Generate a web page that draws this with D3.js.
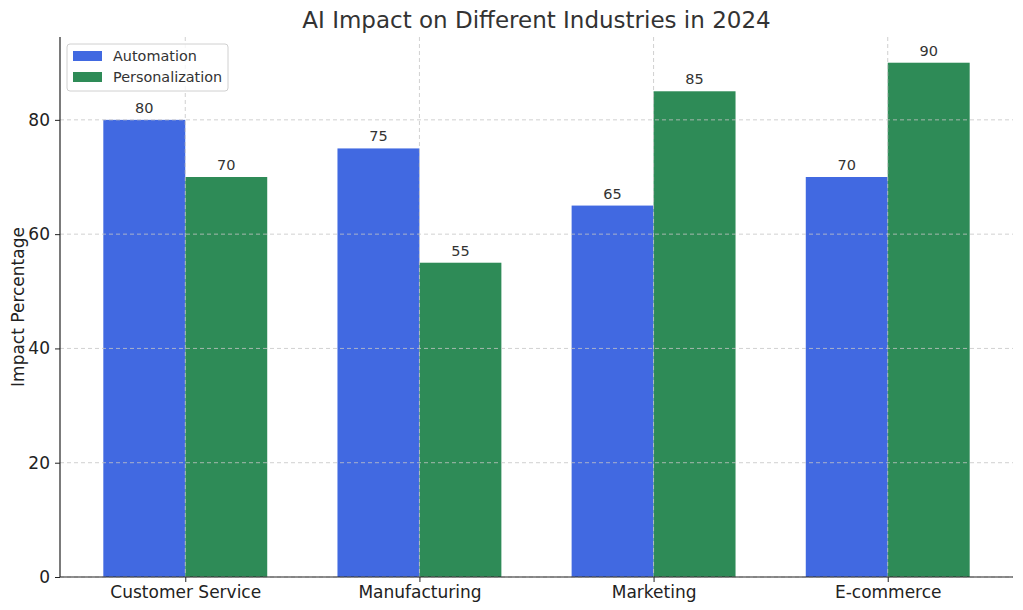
<!DOCTYPE html>
<html>
<head>
<meta charset="utf-8">
<script src="https://cdn.jsdelivr.net/npm/d3@7"></script>
<style>
  body { margin: 0; background: #fff; }
  svg text { font-family: "DejaVu Sans", sans-serif; }
</style>
</head>
<body>
<svg id="chart" width="1023" height="610"></svg>
<script>
var industries    = ['Customer Service', 'Manufacturing', 'Marketing', 'E-commerce'];
var automation    = [80, 75, 65, 70];
var personalize   = [70, 55, 85, 90];
var seriesNames   = ['Automation', 'Personalization'];
var seriesColors  = ['#4169e1', '#2e8b57'];
var yTicks        = [0, 20, 40, 60, 80];

var svg = d3.select('#chart');
var margin = {top: 37, right: 10, bottom: 33, left: 60},
    width  = svg.attr('width')  - margin.left - margin.right,
    height = svg.attr('height') - margin.top  - margin.bottom;

var g = svg.append('g')
           .attr('transform', 'translate(' + margin.left + ',' + margin.top + ')');

/* matplotlib-like: bars at i -/+ 0.35/2, 5% margins */
var barW = 0.35;
var lo = -barW, hi = industries.length - 1 + barW, pad = (hi - lo) * 0.05;
var x = d3.scaleLinear().domain([lo - pad, hi + pad]).range([0, width]);
var y = d3.scaleLinear().domain([0, d3.max(personalize.concat(automation)) * 1.05]).range([height, 0]);

var series = [automation, personalize];
series.forEach(function (vals, s) {
    g.selectAll('.bar' + s)
     .data(vals)
     .enter().append('rect')
       .attr('x', function (d, i) { return x(s == 0 ? i - barW : i); })
       .attr('y', function (d) { return y(d); })
       .attr('width', x(barW) - x(0))
       .attr('height', function (d) { return height - y(d); })
       .attr('fill', seriesColors[s]);

    g.selectAll('.lbl' + s)
     .data(vals)
     .enter().append('text')
       .attr('x', function (d, i) { return x(s == 0 ? i - barW / 2 : i + barW / 2); })
       .attr('y', function (d) { return y(d) - 7; })
       .attr('text-anchor', 'middle')
       .attr('font-size', '14.5px')
       .attr('fill', '#333')
       .text(function (d) { return d; });
});

/* grid on top of bars */
var grid = g.append('g').attr('stroke', '#c4c4c4').attr('stroke-dasharray', '4,3').attr('stroke-width', 0.8);
grid.selectAll('.gy').data(yTicks).enter().append('line')
    .attr('x1', 0).attr('x2', width)
    .attr('y1', function (d) { return y(d); }).attr('y2', function (d) { return y(d); });
grid.selectAll('.gx').data(industries).enter().append('line')
    .attr('y1', 0).attr('y2', height)
    .attr('x1', function (d, i) { return x(i); }).attr('x2', function (d, i) { return x(i); });

var yAxis = g.append('g')
   .call(d3.axisLeft(y).tickValues(yTicks).tickSize(5).tickPadding(5));
var xAxis = g.append('g')
   .attr('transform', 'translate(0,' + height + ')')
   .call(d3.axisBottom(x).tickValues(d3.range(industries.length))
            .tickFormat(function (i) { return industries[i]; })
            .tickSize(5).tickPadding(4));
[yAxis, xAxis].forEach(function (a) {
    a.selectAll('text').attr('font-size', '17px').attr('fill', '#222').attr('font-family', '"DejaVu Sans", sans-serif');
    a.selectAll('line, path').attr('stroke', '#222');
    a.select('.domain').attr('stroke-width', 1.2);
});
xAxis.select('.domain').attr('d', 'M0,0H' + width);
yAxis.select('.domain').attr('d', 'M0,0V' + height);

svg.append('text')
   .attr('x', margin.left + width / 2)
   .attr('y', 28)
   .attr('text-anchor', 'middle')
   .attr('font-size', '23px')
   .attr('fill', '#333')
   .text('AI Impact on Different Industries in 2024');

svg.append('text')
   .attr('transform', 'translate(24,' + (margin.top + height / 2) + ') rotate(-90)')
   .attr('text-anchor', 'middle')
   .attr('font-size', '17px')
   .attr('fill', '#222')
   .text('Impact Percentage');

/* legend */
var lg = g.append('g').attr('transform', 'translate(7,7)');
lg.append('rect')
  .attr('width', 161).attr('height', 47).attr('rx', 3)
  .attr('fill', '#fff').attr('fill-opacity', 0.8)
  .attr('stroke', '#d0d0d0');
seriesNames.forEach(function (n, i) {
    lg.append('rect').attr('x', 6).attr('y', 7 + i * 21).attr('width', 29).attr('height', 10)
      .attr('fill', seriesColors[i]);
    lg.append('text').attr('x', 46).attr('y', 17 + i * 21)
      .attr('font-size', '14.4px').attr('fill', '#333').text(n);
});
</script>
</body>
</html>
